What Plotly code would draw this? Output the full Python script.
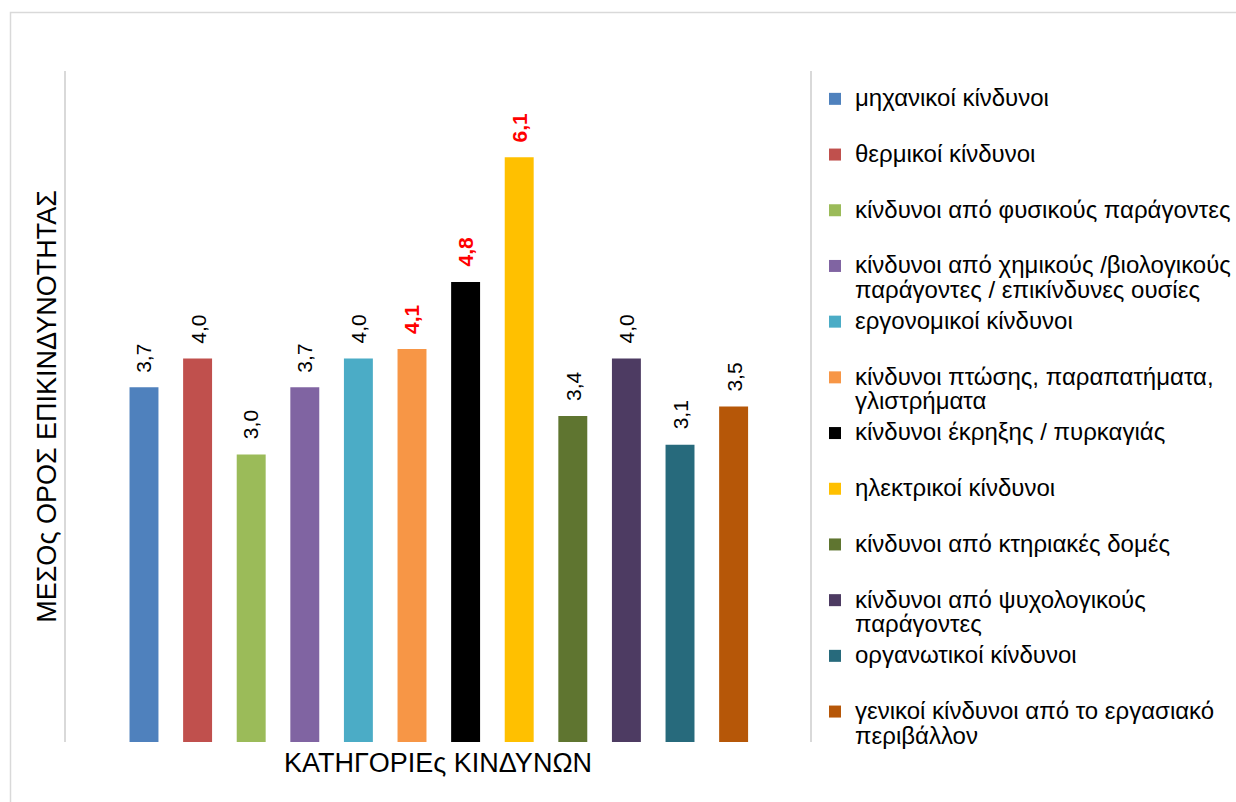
import plotly.graph_objects as go

# ---- data ----
categories = [
    "μηχανικοί κίνδυνοι",
    "θερμικοί κίνδυνοι",
    "κίνδυνοι από φυσικούς παράγοντες",
    "κίνδυνοι από χημικούς /βιολογικούς<br>παράγοντες / επικίνδυνες ουσίες",
    "εργονομικοί κίνδυνοι",
    "κίνδυνοι πτώσης, παραπατήματα,<br>γλιστρήματα",
    "κίνδυνοι έκρηξης / πυρκαγιάς",
    "ηλεκτρικοί κίνδυνοι",
    "κίνδυνοι από κτηριακές δομές",
    "κίνδυνοι από ψυχολογικούς<br>παράγοντες",
    "οργανωτικοί κίνδυνοι",
    "γενικοί κίνδυνοι από το εργασιακό<br>περιβάλλον",
]
values = [3.7, 4.0, 3.0, 3.7, 4.0, 4.1, 4.8, 6.1, 3.4, 4.0, 3.1, 3.5]
y_title = "ΜΕΣΟς ΟΡΟΣ ΕΠΙΚΙΝΔΥΝΟΤΗΤΑΣ"
x_title = "ΚΑΤΗΓΟΡΙΕς ΚΙΝΔΥΝΩΝ"

# ---- style ----
colors = ["#4F81BD", "#C0504D", "#9BBB59", "#8064A2", "#4BACC6", "#F79646",
          "#000000", "#FFC000", "#5F7530", "#4D3B62", "#276A7C", "#B65708"]
highlight = {5, 6, 7}  # indices of labels drawn red/bold
FONT = "Liberation Sans, Arial, sans-serif"

W, H = 1236, 802
L, R, T, B = 66, 810, 71, 742
pw, ph = R - L, B - T

def px_x(p):
    return (p - L) / pw

def px_y(p):
    return (B - p) / ph

def legend_text(name):
    lines = name.split("<br>")
    if len(lines) == 1:
        lines.append("\u00a0")
    return "<br>".join(f'<span style="font-size:24px">{ln}</span>' for ln in lines)

fig = go.Figure()
for i, (name, v) in enumerate(zip(categories, values)):
    fig.add_trace(go.Bar(
        x=[name], y=[v], name=legend_text(name), legendgroup=str(i),
        marker=dict(color=colors[i], line=dict(width=0)),
        width=0.54, hoverinfo="y",
    ))
    hl = i in highlight
    label = f"{v:.1f}".replace(".", ",")
    fig.add_annotation(
        x=name, y=v, xref="x", yref="y", text=f"<b>{label}</b>" if hl else label,
        textangle=-90, showarrow=False, yanchor="bottom", yshift=13,
        font=dict(family=FONT, size=21, color="#FF0000" if hl else "#000000"),
    )

# outer chart border
fig.add_shape(type="rect", xref="paper", yref="paper",
              x0=px_x(10.5), x1=px_x(1300), y0=px_y(12.5), y1=px_y(860),
              line=dict(color="#D9D9D9", width=1.5), fillcolor="rgba(0,0,0,0)",
              layer="below")

fig.update_layout(
    width=W, height=H,
    margin=dict(l=L, r=W - R, t=T, b=H - B, autoexpand=False),
    paper_bgcolor="white", plot_bgcolor="white",
    barmode="overlay",
    font=dict(family=FONT, color="#000000"),
    showlegend=True,
    legend=dict(
        x=px_x(815), y=px_y(80), xanchor="left", yanchor="top",
        font=dict(family=FONT, size=19, color="#000000"),
        valign="top", tracegroupgap=3.3, bgcolor="rgba(0,0,0,0)",
        itemclick=False, maxheight=790,
    ),
    xaxis=dict(
        type="category", range=[-1.455, 12.425], showticklabels=False,
        showgrid=False, zeroline=False, showline=False, ticks="",
        title=dict(text=x_title, standoff=11, font=dict(family=FONT, size=27)),
    ),
    yaxis=dict(
        range=[0, 7], showticklabels=False, showgrid=False, zeroline=False,
        showline=True, linecolor="#D9D9D9", linewidth=1.5, mirror=True, ticks="",
        title=dict(text=y_title, standoff=0, font=dict(family=FONT, size=27)),
    ),
)

fig.write_html("out.html", config={"displayModeBar": False},
               post_script="document.body.style.margin='0';")
